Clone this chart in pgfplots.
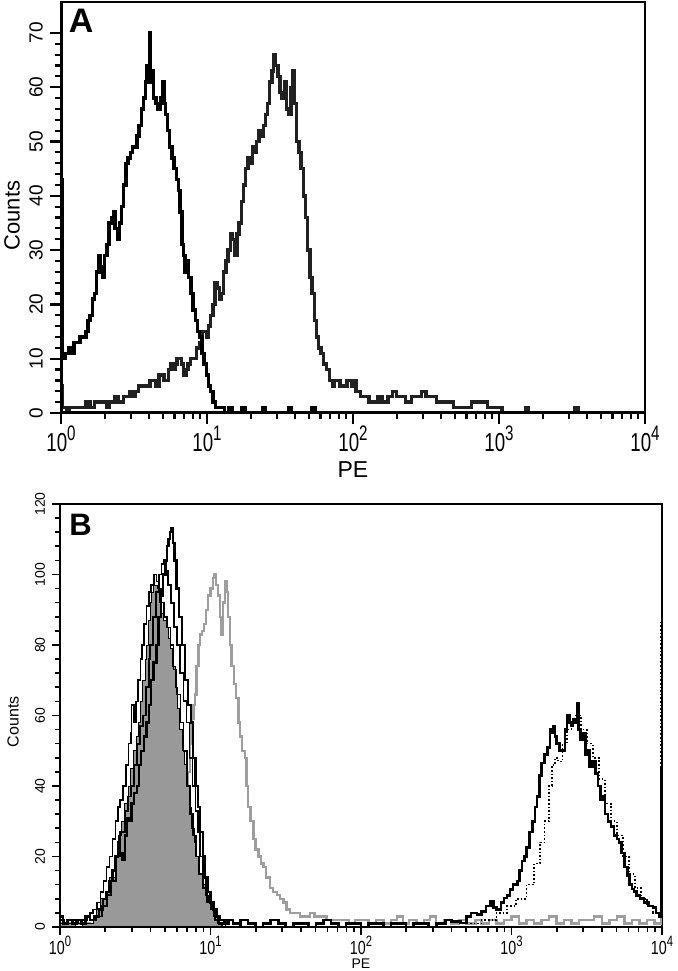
\documentclass[border=0pt]{standalone}
\usepackage{graphicx}
\usepackage{pgfplots}
\usepackage{pgfplotstable}
\pgfplotsset{compat=1.18}
\usepackage{fontspec}
\setmainfont{Liberation Sans}

\newcommand{\exA}[1]{\scalebox{0.72}[1]{10\raisebox{0.42em}{\fontsize{10.5}{10.5}\selectfont #1}}}
\newcommand{\exB}[1]{\scalebox{0.75}[1]{10\raisebox{0.42em}{\fontsize{7.5}{7.5}\selectfont #1}}}

% panel A: log10(PE) vs counts
\pgfplotstableread{
0.000 43
0.012 10
0.030 11
0.050 12
0.070 11
0.090 13
0.110 13
0.130 14
0.150 14
0.170 15
0.185 17
0.200 18
0.215 21
0.230 22
0.245 26
0.260 29
0.270 27
0.285 25
0.300 29
0.315 31
0.330 35
0.345 36
0.360 37
0.370 34
0.385 32
0.400 35
0.415 38
0.430 42
0.445 46
0.460 47
0.475 48
0.490 49
0.505 49
0.520 51
0.535 53
0.550 56
0.565 58
0.580 61
0.590 64
0.600 62
0.608 70
0.615 61
0.625 63
0.635 58
0.650 57
0.665 56
0.680 58
0.695 61
0.705 57
0.715 55
0.730 52
0.745 49
0.760 47
0.775 45
0.790 43
0.805 41
0.815 37
0.830 31
0.840 29
0.850 26
0.860 28
0.875 25
0.890 22
0.905 19
0.920 17
0.935 15
0.950 14
0.965 11
0.980 9
0.995 7
1.010 5
1.025 4
1.040 2
1.060 1
1.090 1
1.120 0
1.150 1
1.170 0
1.240 1
1.260 0
1.380 1
1.400 0
1.560 1
1.580 0
1.720 1
1.740 0
4.000 0
}\histAa

\pgfplotstableread{
0.000 5
0.010 1
0.040 0
0.060 1
0.100 1
0.140 1
0.170 2
0.200 1
0.230 2
0.260 2
0.290 2
0.310 1
0.330 2
0.350 2
0.370 3
0.390 2
0.410 2
0.430 3
0.450 3
0.470 4
0.490 3
0.510 4
0.530 5
0.550 5
0.570 5
0.590 5
0.610 6
0.630 6
0.650 5
0.670 7
0.690 7
0.705 6
0.720 6
0.735 8
0.750 9
0.765 8
0.780 9
0.795 10
0.810 10
0.825 9
0.840 7
0.855 8
0.870 9
0.885 10
0.900 10
0.915 10
0.930 12
0.950 13
0.965 15
0.980 15
0.995 14
1.010 16
1.025 18
1.040 20
1.055 24
1.070 23
1.085 21
1.100 22
1.115 26
1.130 28
1.145 30
1.160 33
1.175 32
1.190 29
1.205 33
1.220 35
1.235 39
1.250 42
1.265 45
1.280 47
1.295 46
1.310 49
1.325 48
1.340 50
1.355 52
1.370 51
1.385 53
1.400 55
1.415 57
1.430 61
1.445 63
1.455 66
1.470 64
1.485 62
1.500 59
1.515 58
1.530 61
1.545 56
1.560 55
1.575 60
1.590 63
1.600 57
1.615 50
1.630 48
1.645 45
1.660 40
1.675 36
1.690 30
1.705 25
1.720 22
1.735 17
1.750 14
1.765 12
1.780 11
1.800 9
1.820 8
1.840 6
1.860 5
1.875 6
1.890 6
1.910 5
1.940 5
1.960 6
1.990 5
2.005 6
2.020 4
2.050 3
2.080 3
2.110 2
2.140 2
2.170 3
2.200 2
2.240 3
2.270 4
2.300 3
2.330 3
2.360 2
2.400 3
2.440 3
2.470 4
2.500 3
2.540 3
2.570 2
2.610 2
2.650 2
2.690 1
2.730 1
2.770 1
2.810 2
2.850 2
2.890 2
2.920 1
2.960 1
2.990 1
3.020 0
3.180 1
3.200 0
3.520 1
3.540 0
4.000 0
}\histAb

% panel B
\pgfplotstableread{
0.000 1
0.050 1
0.100 0
0.150 1
0.200 1
0.220 3
0.240 5
0.270 8
0.300 10
0.330 14
0.365 20
0.390 26
0.410 30
0.430 35
0.454 40
0.470 45
0.490 50
0.505 54
0.520 58
0.535 64
0.550 70
0.565 76
0.576 80
0.590 87
0.600 92
0.610 95
0.620 98
0.630 97
0.645 96
0.660 92
0.675 89
0.690 87
0.705 85
0.720 82
0.735 79
0.750 74
0.765 68
0.780 62
0.795 56
0.810 50
0.825 46
0.845 40
0.860 34
0.875 28
0.890 24
0.905 20
0.925 15
0.945 12
0.965 9
0.985 7
1.005 5
1.025 3
1.045 1
1.070 0
4.000 0
}\histBfill

\pgfplotstableread{
0.000 2
0.030 1
0.060 1
0.090 2
0.120 1
0.150 2
0.180 3
0.200 4
0.220 5
0.245 7
0.270 10
0.290 13
0.310 17
0.330 20
0.350 25
0.370 30
0.385 34
0.400 36
0.420 40
0.440 46
0.455 52
0.470 55
0.476 63
0.490 58
0.505 64
0.520 70
0.535 76
0.545 80
0.560 86
0.575 91
0.590 95
0.605 97
0.625 100
0.640 98
0.655 96
0.670 92
0.690 88
0.710 85
0.735 80
0.755 73
0.775 66
0.800 58
0.820 50
0.845 40
0.865 32
0.885 26
0.905 20
0.925 15
0.950 11
0.975 7
1.000 5
1.025 3
1.050 1
1.080 0
}\histBa

\pgfplotstableread{
0.200 2
0.240 3
0.280 6
0.310 9
0.340 13
0.370 20
0.400 27
0.430 33
0.450 37
0.470 40
0.490 46
0.510 52
0.530 57
0.550 60
0.570 68
0.590 76
0.600 80
0.620 88
0.640 95
0.660 100
0.675 103
0.690 104
0.705 101
0.720 97
0.740 92
0.760 85
0.780 80
0.800 72
0.820 64
0.840 58
0.860 48
0.880 40
0.900 33
0.915 27
0.930 20
0.950 14
0.970 10
1.000 5
1.030 2
1.060 1
1.100 0
}\histBb

\pgfplotstableread{
0.000 3
0.020 1
0.050 2
0.080 1
0.110 2
0.140 1
0.170 3
0.200 2
0.230 3
0.260 5
0.285 8
0.310 10
0.330 13
0.350 16
0.370 20
0.385 24
0.400 21
0.415 19
0.430 26
0.445 31
0.460 30
0.475 35
0.490 38
0.510 40
0.525 46
0.540 50
0.560 54
0.575 58
0.590 63
0.605 70
0.620 75
0.640 80
0.655 88
0.670 94
0.685 100
0.700 104
0.710 108
0.720 110
0.730 112
0.740 113
0.750 109
0.760 104
0.775 96
0.790 88
0.810 80
0.830 70
0.850 63
0.870 58
0.885 48
0.900 40
0.915 34
0.930 27
0.950 20
0.965 14
0.980 10
1.000 7
1.020 5
1.040 3
1.060 2
1.090 1
1.120 2
1.150 1
1.200 0
}\histBc

\pgfplotstableread{
0.000 1
0.100 1
0.200 0
0.300 1
0.400 0
0.500 1
0.600 1
0.650 2
0.700 3
0.730 6
0.750 10
0.770 15
0.790 22
0.805 27
0.820 32
0.835 37
0.850 44
0.862 52
0.875 59
0.887 63
0.897 66
0.908 74
0.920 80
0.932 83
0.945 84
0.957 86
0.970 90
0.985 94
1.000 96
1.015 99
1.025 100
1.035 97
1.050 94
1.062 88
1.074 83
1.085 92
1.096 98
1.107 95
1.118 88
1.130 80
1.140 74
1.155 69
1.170 65
1.185 58
1.196 54
1.210 50
1.229 48
1.240 40
1.250 34
1.265 30
1.285 25
1.300 22
1.318 20
1.335 18
1.351 17
1.370 14
1.395 11
1.415 10
1.440 9
1.460 8
1.484 7
1.505 5
1.530 4
1.560 4
1.595 3
1.625 3
1.660 4
1.690 3
1.730 3
1.770 2
1.820 2
1.870 2
1.920 1
1.960 2
2.000 2
2.050 1
2.100 2
2.150 1
2.200 2
2.240 3
2.280 1
2.320 2
2.370 1
2.420 2
2.460 3
2.500 1
2.550 2
2.600 1
2.650 2
2.700 1
2.760 2
2.800 1
2.850 2
2.900 1
2.950 2
3.000 3
3.050 1
3.100 2
3.150 1
3.200 2
3.250 3
3.300 1
3.350 2
3.400 1
3.450 2
3.500 2
3.550 3
3.600 1
3.650 2
3.700 3
3.750 1
3.800 2
3.850 1
3.900 2
3.950 1
3.993 16
4.000 16
}\histBgray

\pgfplotstableread{
1.050 1
1.100 2
1.150 1
1.200 2
1.250 1
1.300 0
1.350 1
1.400 2
1.450 1
1.500 0
1.550 1
1.600 1
1.650 0
1.700 1
1.750 2
1.800 1
1.850 0
1.900 1
1.950 1
2.000 0
2.050 1
2.100 1
2.150 0
2.200 1
2.250 1
2.300 0
2.350 1
2.400 1
2.450 0
2.500 1
2.560 2
2.600 1.6
2.660 1.1
2.700 3
2.730 4
2.770 3.5
2.800 4.4
2.830 6
2.860 7.3
2.880 5.5
2.900 5
2.930 7
2.950 8.2
2.970 9
2.990 10.6
3.010 12
3.040 13
3.055 16
3.070 18.7
3.085 20
3.100 22.5
3.120 27
3.140 30
3.155 34
3.170 37
3.185 43
3.200 46.5
3.220 49
3.240 51
3.255 56
3.270 55
3.280 57
3.290 54
3.300 52
3.320 50
3.340 50
3.355 56
3.370 60
3.385 58
3.395 57
3.410 59
3.425 58
3.435 63.5
3.445 56
3.460 53
3.475 55
3.490 49
3.505 50
3.520 45.5
3.540 47
3.560 43.6
3.575 40
3.590 36
3.605 37
3.620 32
3.640 30
3.660 28.5
3.680 26
3.700 25
3.715 24
3.730 21
3.750 17
3.770 14.6
3.785 12
3.800 10.8
3.815 10
3.830 8.9
3.855 8
3.880 7
3.910 6
3.940 5.5
3.960 4
3.980 3
3.993 45
4.000 45
}\histBpos

\pgfplotstableread{
2.700 1
2.800 2
2.900 4
2.970 6
3.030 8
3.100 12
3.150 18
3.190 24
3.220 30
3.250 40
3.270 46
3.290 48
3.310 47
3.340 52
3.370 56
3.400 58
3.430 60
3.460 56
3.500 52
3.540 48
3.580 42
3.620 35
3.660 30
3.700 26
3.740 20
3.780 15
3.820 11
3.860 8
3.900 6
3.940 4
3.980 3
3.993 87
4.000 87
}\histBdot

\def\logminors{0.301,0.477,0.602,0.699,0.778,0.845,0.903,0.954,
1.301,1.477,1.602,1.699,1.778,1.845,1.903,1.954,
2.301,2.477,2.602,2.699,2.778,2.845,2.903,2.954,
3.301,3.477,3.602,3.699,3.778,3.845,3.903,3.954}

\begin{document}
\begin{tikzpicture}
\path[use as bounding box] (0,0) rectangle (338.5pt,485.5pt);

% ---------- A ----------
\begin{axis}[
  at={(30.5pt,279pt)}, anchor=south west,
  scale only axis, width=292pt, height=205.5pt,
  xmin=0, xmax=4, ymin=0, ymax=75.7,
  xtick={0,1,2,3,4},
  xticklabels={\exA{0},\exA{1},\exA{2},\exA{3},\exA{4}},
  minor xtick/.expanded={\logminors},
  ytick={0,10,...,70}, minor y tick num=4,
  /pgf/number format/assume math mode=true,
  tick align=outside, xtick pos=bottom, ytick pos=left,
  major tick length=5.5pt, minor tick length=3.2pt,
  every tick/.style={black, line width=1.1pt},
  axis line style={line width=1.1pt},
  yticklabel style={rotate=90, anchor=south, font=\fontsize{9.5}{9.5}\selectfont},
  xticklabel style={anchor=north, yshift=2.5pt, font=\fontsize{13}{13}\selectfont},
  ylabel={Counts}, xlabel={PE},
  ylabel style={at={(axis description cs:-0.084,0.48)}, anchor=center, font=\fontsize{11}{11}\selectfont},
  xlabel style={at={(axis description cs:0.5,-0.137)}, anchor=center, inner sep=0pt, font=\fontsize{11.5}{11.5}\selectfont},
]
\addplot[const plot, draw=black!87, line width=1.7pt] table {\histAb};
\addplot[const plot, draw=black, line width=1.7pt] table {\histAa};
\draw[line width=2pt] (rel axis cs:0,1) -- (rel axis cs:0,0) -- (rel axis cs:1,0);
\node[anchor=north west, inner sep=0pt, font=\fontsize{17}{17}\selectfont\bfseries]
  at ([xshift=3.8pt,yshift=-3.2pt]rel axis cs:0,1) {A};
\end{axis}

% ---------- B ----------
\begin{axis}[
  at={(30pt,22pt)}, anchor=south west,
  scale only axis, width=301pt, height=211.5pt,
  xmin=0, xmax=4, ymin=0, ymax=120,
  xtick={0,1,2,3,4},
  xticklabels={\exB{0},\exB{1},\exB{2},\exB{3},\exB{4}},
  minor xtick/.expanded={\logminors},
  ytick={0,20,...,120}, minor y tick num=4,
  /pgf/number format/assume math mode=true,
  tick align=outside, xtick pos=bottom, ytick pos=left,
  major tick length=4pt, minor tick length=2.5pt,
  every tick/.style={black, line width=0.8pt},
  axis line style={line width=0.7pt},
  yticklabel style={rotate=90, anchor=south, font=\fontsize{7}{7}\selectfont},
  xticklabel style={anchor=north, inner sep=0pt, yshift=-0.5pt, font=\fontsize{9.5}{9.5}\selectfont},
  ylabel={Counts}, xlabel={PE},
  ylabel style={at={(axis description cs:-0.078,0.485)}, anchor=center, font=\fontsize{8}{8}\selectfont},
  xlabel style={at={(axis description cs:0.5,-0.087)}, anchor=center, inner sep=0pt, font=\fontsize{7}{7}\selectfont},
]
\addplot[const plot, draw=black!38, line width=1.2pt] table {\histBgray};
\addplot[const plot, fill=black!40, draw=black, line width=0.4pt] table {\histBfill} \closedcycle;
\addplot[const plot, draw=black, line width=0.8pt] table {\histBa};
\addplot[const plot, draw=black, line width=0.9pt] table {\histBb};
\addplot[const plot, draw=black, line width=1.2pt] table {\histBc};
\addplot[const plot, draw=black, line width=1.3pt] table {\histBpos};
\addplot[const plot, draw=black, line width=0.8pt, densely dotted] table {\histBdot};
\draw[line width=1.1pt] (rel axis cs:0,1) -- (rel axis cs:0,0) -- (rel axis cs:1,0);
\node[anchor=north west, inner sep=0pt, font=\fontsize{15.5}{15.5}\selectfont\bfseries]
  at ([xshift=4.5pt,yshift=-5pt]rel axis cs:0,1) {B};
\end{axis}
\end{tikzpicture}
\end{document}
